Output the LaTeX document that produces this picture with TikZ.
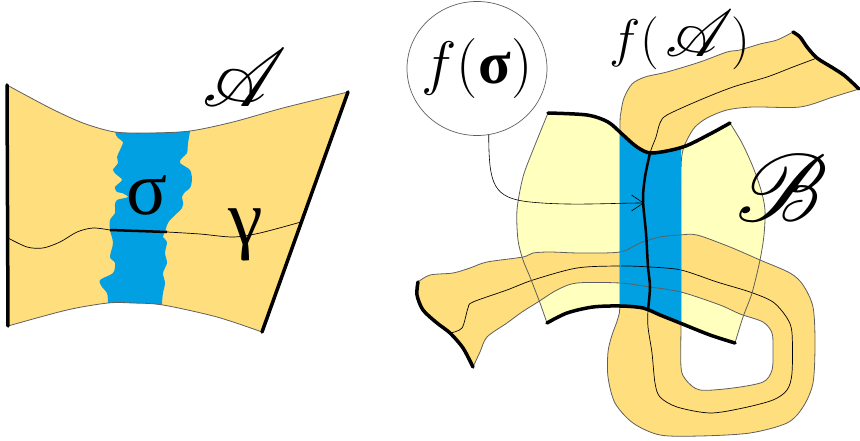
\RequirePackage{fix-cm}
\documentclass[tikz,border=0pt]{standalone}
\usepackage{amsmath}
\usepackage{fontspec}
\newfontfamily\grk{Liberation Serif}
\usetikzlibrary{arrows.meta,shapes.geometric}
\DeclareFontFamily{U}{myrsfs}{}
\DeclareFontShape{U}{myrsfs}{m}{n}{<-> rsfs10}{}
\DeclareMathAlphabet{\myscr}{U}{myrsfs}{m}{n}
\definecolor{ribbonY}{RGB}{255,222,125}
\definecolor{paleY}{RGB}{255,255,190}
\definecolor{sigBlue}{RGB}{0,160,226}
\definecolor{edgeG}{RGB}{95,95,95}
\newcommand{\smoothpath}[2]{\edef\mysmtmp{\noexpand\path[#1] #2;}\mysmtmp}
% left shape
\def\ptAtop{(7,85) (50,108) (83,123) (115,132) (150,133) (190,131) (233,122) (283,108) (348,92)}
\def\ptAbot{(262,332) (217,317) (163,305) (133,303) (108,303) (67,310) (8,326)}
\def\ptSigL{(115,120) (115,132) (118,138) (123,142) (120,150) (117,157) (118,163) (113,170) (117,175) (122,180) (115,187) (117,192) (122,193) (128,197) (117,200) (115,205) (115,213) (110,220) (110,230) (113,243) (110,257) (115,263) (113,273) (100,280) (102,287) (107,293) (108,303) (108,316)}
\def\ptSigR{(162,316) (162,303) (163,293) (165,283) (163,273) (167,263) (165,253) (167,242) (163,237) (165,232) (167,225) (170,220) (173,217) (182,208) (183,202) (182,197) (185,192) (190,188) (192,180) (190,170) (180,163) (182,158) (187,153) (188,143) (190,131) (190,120)}
% region B
\def\ptBtop{(548,113) (587,115) (608,122) (622,134) (637,147) (652,153) (683,147) (710,134) (730,123)}
\def\ptBright{(730,123) (742,143) (753,167) (761,190) (765,210) (764,235) (760,260) (752,293) (743,317) (735,343)}
\def\ptBbot{(735,343) (710,335) (680,323) (660,315) (643,308) (620,306) (593,307) (567,313) (547,323)}
\def\ptBleft{(547,323) (540,303) (530,277) (523,260) (518,240) (517,210) (523,177) (533,150) (548,113)}
% ribbon f(A)
\def\ptRA{(793,32) (777,40) (760,44) (740,50) (727,52) (700,62) (667,72) (645,77) (632,84) (624,98) (621,112) (620,125) (620,200) (620,300) (618,318) (612,335) (608,352) (608,377) (615,403) (633,423) (660,435) (700,436) (750,433) (787,423) (803,407) (813,383) (815,343) (813,307) (803,285) (790,273) (760,260) (730,247) (697,235) (680,235) (660,237) (640,243) (620,252) (580,253) (550,252) (533,253) (523,257) (487,262) (470,268) (453,273) (430,275) (418,282)}
\def\ptRL{(418,282) (417,295) (423,310) (437,323) (450,333) (463,348) (473,367)}
\def\ptRB{(473,367) (480,352) (487,337) (507,323) (522,312) (538,302) (557,290) (577,283) (620,283) (650,287) (681,292) (720,305) (740,314) (763,322) (772,333) (773,350) (772,370) (763,382) (733,388) (700,390) (686,380) (681,367) (681,323) (681,250) (681,170) (683,150) (688,138) (695,127) (707,118) (727,110) (753,107) (800,107) (833,97) (859,89)}
\def\ptRR{(859,89) (845,76) (833,68) (817,58) (807,47) (800,37) (793,32)}
\def\ptRC{(817,58) (793,67) (767,77) (733,87) (700,100) (667,115) (660,123) (656,137) (650,153) (645,177) (643,200) (646,233) (648,267) (650,287) (648,310) (648,327) (652,353) (655,383) (660,397) (677,407) (710,413) (743,408) (773,400) (787,390) (792,373) (792,333) (787,318) (773,302) (750,292) (717,282) (681,270) (650,267) (620,266) (577,268) (533,280) (507,290) (473,302) (468,308) (462,328) (450,333)}
\def\ptRT{(650,153) (645,177) (643,200) (646,233) (648,267) (650,287) (648,310)}
\begin{document}
\begin{tikzpicture}[x=1pt,y=-1pt,
  thinedge/.style={draw=edgeG,line width=0.8pt},
  cline/.style={draw=black,line width=0.7pt},
  thickedge/.style={draw=black,line width=3.5pt,line cap=round},
  midthick/.style={draw=black,line width=2.5pt},
  conn/.style={draw=black,line width=0.6pt,-{Straight Barb[length=12pt,width=16pt]}},
  lbl/.style={inner sep=0pt}]
\useasboundingbox (0,0) rectangle (860,441);
% ===== left: region A =====
\smoothpath{fill=ribbonY}{plot[smooth] coordinates {\ptAtop} -- plot[smooth] coordinates {\ptAbot} -- cycle}
\begin{scope}
\smoothpath{clip}{plot[smooth] coordinates {\ptAtop} -- plot[smooth] coordinates {\ptAbot} -- cycle}
\smoothpath{fill=sigBlue}{plot[smooth,tension=0.5] coordinates {\ptSigL} -- plot[smooth,tension=0.5] coordinates {\ptSigR} -- cycle}
\end{scope}
\smoothpath{thinedge}{plot[smooth] coordinates {\ptAtop}}
\smoothpath{thinedge}{plot[smooth] coordinates {\ptAbot}}
\draw[thickedge] (7,85) -- (8,326);
\draw[thickedge] (348,92) -- (262,332);
\draw[cline] plot[smooth] coordinates {(8,238) (27,247) (43,248) (60,242) (77,232) (93,228) (110,230)};
\draw[midthick] (110,230) -- (167,232);
\draw[cline] plot[smooth] coordinates {(167,232) (200,234) (233,237) (260,233) (301,222)};
\node[lbl] (calA) at (245,78) {\fontsize{82}{82}\selectfont$\myscr{A}$};
\node[lbl] (sig) at (147,195) {\grk\fontsize{76}{76}\selectfont σ};
\node[lbl] (gam) at (246,235) {\grk\fontsize{78}{78}\selectfont γ};
% ===== right: region B and ribbon f(A) =====
\smoothpath{fill=paleY}{plot[smooth] coordinates {\ptBtop} -- plot[smooth] coordinates {\ptBright} -- plot[smooth] coordinates {\ptBbot} -- plot[smooth] coordinates {\ptBleft} -- cycle}
\smoothpath{fill=ribbonY}{plot[smooth] coordinates {\ptRA} -- plot[smooth] coordinates {\ptRL} -- plot[smooth] coordinates {\ptRB} -- plot[smooth] coordinates {\ptRR} -- cycle}
\smoothpath{thinedge}{plot[smooth] coordinates {\ptRA}}
\smoothpath{thinedge}{plot[smooth] coordinates {\ptRB}}
\smoothpath{cline}{plot[smooth] coordinates {\ptRC}}
\smoothpath{thinedge}{plot[smooth] coordinates {\ptBright}}
\smoothpath{thinedge}{plot[smooth] coordinates {\ptBleft}}
\begin{scope}
\smoothpath{clip}{plot[smooth] coordinates {\ptBtop} -- plot[smooth] coordinates {\ptBright} -- plot[smooth] coordinates {\ptBbot} -- plot[smooth] coordinates {\ptBleft} -- cycle}
\fill[sigBlue] (620,100) rectangle (681,350);
\clip (621,100) rectangle (680.3,350);
\smoothpath{thinedge}{plot[smooth] coordinates {\ptRA}}
\smoothpath{thinedge}{plot[smooth] coordinates {\ptRB}}
\smoothpath{cline}{plot[smooth] coordinates {\ptRC}}
\end{scope}
\smoothpath{midthick}{plot[smooth] coordinates {\ptRT}}
\smoothpath{thickedge}{plot[smooth] coordinates {\ptBtop}}
\smoothpath{thickedge}{plot[smooth] coordinates {\ptBbot}}
\smoothpath{thickedge}{plot[smooth] coordinates {\ptRL}}
\smoothpath{thickedge}{plot[smooth] coordinates {\ptRR}}
% ===== label f(sigma) with pointer =====
\node[ellipse,draw=edgeG,line width=0.7pt,minimum width=140pt,minimum height=134pt,inner sep=0pt,
  label={[lbl]center:{\fontsize{60}{60}\selectfont$f($\kern1pt{\grk\bfseries σ}$)$}}] (fs) at (477,68.5) {};
\coordinate (tip) at (644,203);
\draw[conn] (fs.-80) .. controls (489,185) and (493,198) .. (530,202) .. controls (570,206) and (610,203) .. (tip);
\node[lbl] (fAl) at (680,40) {\fontsize{53}{53}\selectfont$f($\kern6pt\mbox{\fontsize{66}{66}\selectfont$\myscr{A}$}\kern-2pt$)$};
\node[lbl] (calB) at (782,188) {\fontsize{96}{96}\selectfont$\myscr{B}$};
\end{tikzpicture}
\end{document}
